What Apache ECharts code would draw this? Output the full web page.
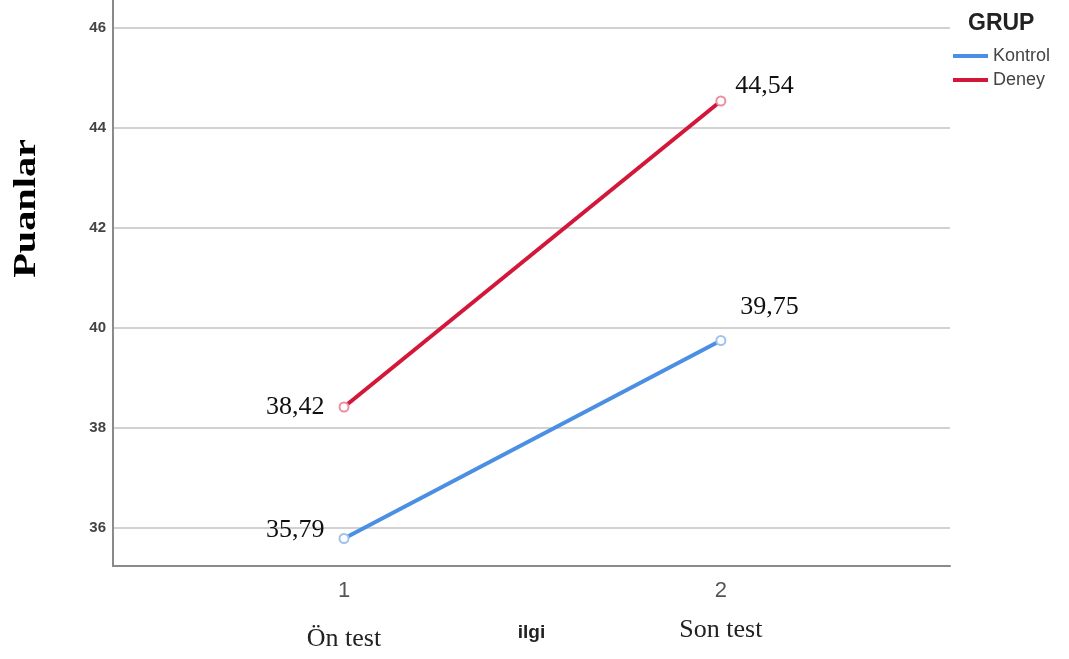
<!DOCTYPE html>
<html>
<head>
<meta charset="utf-8">
<script src="https://cdn.jsdelivr.net/npm/echarts@6/dist/echarts.min.js"></script>
<style>
  html, body { margin: 0; padding: 0; background: #fff; }
  #chart { width: 1069px; height: 659px; }
</style>
</head>
<body>
<div id="chart"></div>
<script>
// data
const xValues = [1, 2]
const xNames = ['Ön test', 'Son test']
const kontrol = [35.79, 39.75]
const deney = [38.42, 44.54]
const yTicks = [36, 38, 40, 42, 44, 46]

const fmt = v => v.toFixed(2).replace('.', ',')

const chart = echarts.init(document.getElementById('chart'))

// label placement per point: [position, distance, offset]
const kontrolLabels = [['left', 12, [-2, -8]], ['right', 14, [0, -33]]]
const deneyLabels = [['left', 12, [-2, 0]], ['right', 9, [0, -15]]]

const makeData = (vals, places) => vals.map((v, i) => ({
  value: [xValues[i], v],
  label: {
    show: true,
    position: places[i][0],
    distance: places[i][1],
    offset: places[i][2],
    formatter: fmt(v),
    fontFamily: 'Liberation Serif',
    fontSize: 26,
    color: '#111'
  }
}))

const serifLabel = { fontFamily: 'Liberation Serif', fontSize: 26, color: '#222' }

const option = {
  animation: false,
  backgroundColor: '#fff',
  grid: { left: 113, right: 119, top: 0, bottom: 93, outerBoundsMode: 'none' },
  title: {
    text: 'GRUP', left: 963, top: 7,
    textStyle: { fontFamily: 'Arial', fontWeight: 'bold', fontSize: 23, color: '#222' }
  },
  legend: {
    orient: 'vertical', left: 948, top: 42,
    icon: 'rect', itemWidth: 35, itemHeight: 4, itemGap: 6,
    textStyle: { fontFamily: 'Arial', fontSize: 18, color: '#444' },
    data: [
      { name: 'Kontrol', itemStyle: { color: '#4a8fe3' } },
      { name: 'Deney', itemStyle: { color: '#d3173a' } }
    ]
  },
  graphic: [{
    type: 'text', left: 11, top: 139, rotation: Math.PI / 2, scaleX: 1.3,
    style: { text: 'Puanlar', font: 'bold 31px "Liberation Serif"', fill: '#000' }
  }],
  xAxis: {
    type: 'value', min: 0.387, max: 2.608,
    name: 'ilgi', nameLocation: 'middle', nameGap: 57, nameMoveOverlap: false,
    nameTextStyle: { fontFamily: 'Arial', fontWeight: 'bold', fontSize: 19, color: '#222' },
    axisLine: { lineStyle: { color: '#8a8a8a', width: 2 } },
    axisTick: { show: false, customValues: xValues },
    splitLine: { show: false },
    axisLabel: {
      customValues: xValues,
      margin: 12,
      formatter: v => {
        const i = xValues.indexOf(v)
        return i === 0 ? '{n|' + v + '}\n{a|' + xNames[i] + '}' : '{n|' + v + '}\n{b|' + xNames[i] + '}'
      },
      rich: {
        n: { fontFamily: 'Arial', fontSize: 22, color: '#555', lineHeight: 26 },
        a: Object.assign({ lineHeight: 70 }, serifLabel),
        b: Object.assign({ lineHeight: 52 }, serifLabel)
      }
    }
  },
  yAxis: {
    type: 'value', min: 35.24, max: 46.56,
    axisLine: { show: true, lineStyle: { color: '#8a8a8a', width: 2 } },
    axisTick: { show: false, customValues: yTicks },
    splitLine: { show: true, lineStyle: { color: '#d2d2d2', width: 2 } },
    axisLabel: {
      customValues: yTicks, margin: 7,
      fontFamily: 'Arial', fontWeight: 'bold', fontSize: 15, color: '#444'
    }
  },
  series: [
    {
      name: 'Kontrol', type: 'line',
      data: makeData(kontrol, kontrolLabels),
      symbol: 'emptyCircle', symbolSize: 9,
      itemStyle: { color: '#9fc3f0', borderWidth: 2 },
      lineStyle: { color: '#4a8fe3', width: 4 },
      z: 3
    },
    {
      name: 'Deney', type: 'line',
      data: makeData(deney, deneyLabels),
      symbol: 'emptyCircle', symbolSize: 9,
      itemStyle: { color: '#ec8fa0', borderWidth: 2 },
      lineStyle: { color: '#d3173a', width: 4 },
      z: 3
    }
  ]
}

chart.setOption(option)
</script>
</body>
</html>
